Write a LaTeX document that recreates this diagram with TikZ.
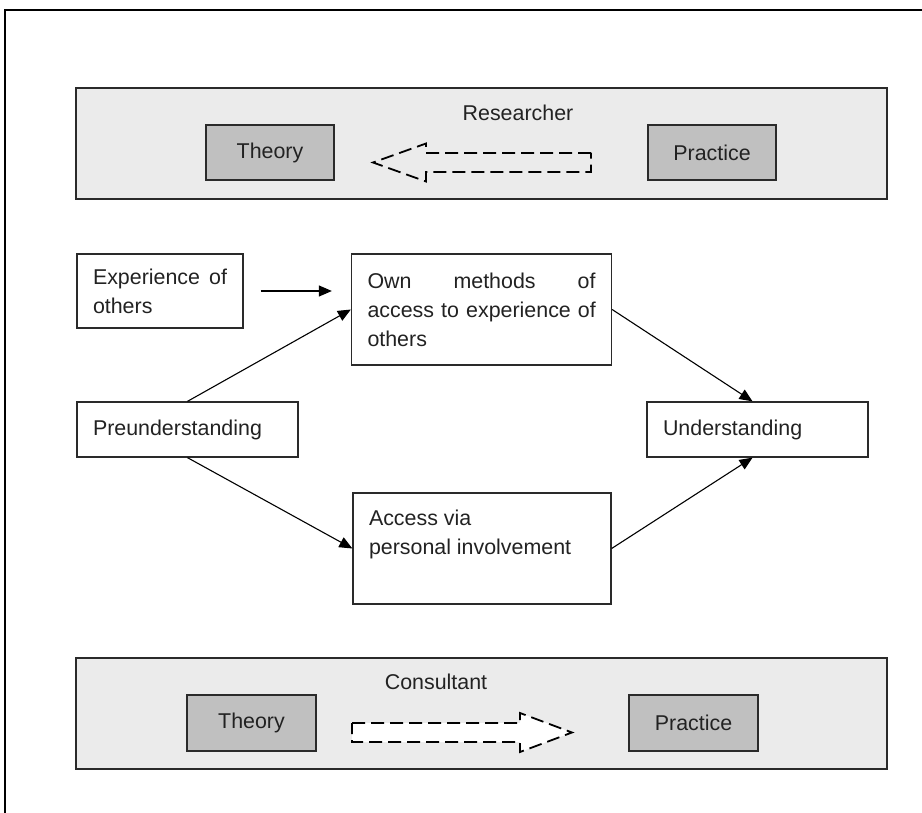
\documentclass[tikz,border=0pt]{standalone}
\usepackage{fontspec}
\setmainfont{Liberation Sans}
\usetikzlibrary{arrows.meta}
\definecolor{bandgray}{HTML}{EBEBEB}
\definecolor{boxgray}{HTML}{C0C0C0}
\definecolor{edge}{HTML}{2A2A2A}
\definecolor{ink}{HTML}{222222}
\begin{document}
\begin{tikzpicture}[x=1pt,y=-1pt,
  every node/.style={font=\fontsize{21.4}{29}\selectfont, text=ink},
  band/.style={draw=edge, line width=2pt, fill=bandgray, minimum width=811pt, minimum height=111pt, inner sep=0pt},
  graybox/.style={draw=edge, line width=1.5pt, fill=boxgray, minimum width=128pt, minimum height=55pt, inner sep=0pt},
  whitebox/.style={draw=edge, line width=1.3pt, fill=white, inner xsep=16pt, inner ysep=0pt, align=left},
  conn/.style={line width=1.1pt, -{Triangle[length=13pt,width=11pt]}},
  dasharrow/.style={draw=black, line width=1.8pt, dash pattern=on 13pt off 6pt, line join=miter}
]
\useasboundingbox (0,0) rectangle (922,813);

% page frame (top and left edges)
\draw[line width=1.5pt] (922,10) -- (5,10) -- (5,813);

% researcher band
\node[band] (research) at (481.5,143.5) {};
\node (reslabel) at (518,113) {Researcher};
\node[graybox] (theoryR) at (270,152.5) {Theory};
\node[graybox] (practiceR) at (712,152.5) {Practice};
\draw[dasharrow] (591,153) -- (426,153) -- (426,143.5) -- (373,162.5)
  -- (426,181.5) -- (426,172) -- (591,172) -- cycle;

% central process
\node[whitebox, text width=134pt, minimum height=74pt] (exp) at (160,291)
  {Experience\hfill of\\others};
\node[whitebox, text width=228pt, minimum height=111pt] (own) at (481.5,309.5)
  {Own\hfill methods\hfill of\\\mbox{access to experience of}\\others};
\node[whitebox, text width=189pt, minimum height=55pt] (pre) at (187.5,429.5)
  {Preunderstanding};
\node[whitebox, text width=189pt, minimum height=55pt] (und) at (757.5,429.5)
  {Understanding};
\node[whitebox, minimum height=111pt] (acc) at (482,548.5)
  {\parbox[c][77pt][t]{226pt}{Access via\\personal involvement}};

\draw[conn, shorten <=17pt, shorten >=19pt] (exp.east) -- (own.west |- exp.east);
\draw[conn] (pre.north) -- (own.west);
\draw[conn] (pre.south) -- (acc.west);
\draw[conn] (own.east) -- ([xshift=-5pt]und.north);
\draw[conn] (acc.east) -- ([xshift=-5pt]und.south);

% consultant band
\node[band] (consult) at (481.5,713.5) {};
\node (conlabel) at (436,682) {Consultant};
\node[graybox, minimum width=129pt, minimum height=56pt] (theoryC) at (251.5,723) {Theory};
\node[graybox, minimum width=129pt, minimum height=56pt] (practiceC) at (693.5,723) {Practice};
\draw[dasharrow, fill=white] (352,723) -- (520,723) -- (520,713) -- (572,732.5)
  -- (520,752) -- (520,742) -- (352,742) -- cycle;
\end{tikzpicture}
\end{document}
